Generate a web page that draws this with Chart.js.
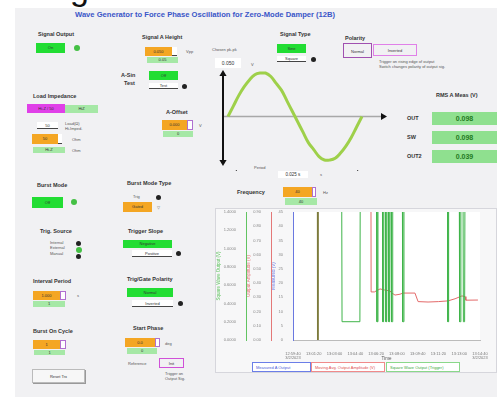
<!DOCTYPE html>
<html>
<head>
<meta charset="utf-8">
<script src="https://cdn.jsdelivr.net/npm/chart.js@4.4.0/dist/chart.umd.min.js"></script>
<style>
  body { margin:0; width:497px; height:397px; overflow:hidden; background:#fff; font-family:"Liberation Sans", Arial, sans-serif; }
  #panel { position:absolute; left:15px; top:8px; width:482px; height:389px; background:#f1f1f3; }
  .t { position:absolute; font-size:5.5px; font-weight:bold; color:#333; white-space:nowrap; }
  .s { position:absolute; font-size:4px; color:#555; white-space:nowrap; line-height:5px; }
  .bx { position:absolute; font-size:4px; color:#333; text-align:center; box-sizing:border-box; white-space:nowrap; overflow:hidden; }
  .or { background:#f4a623; }
  .gr { background:#22dd33; }
  .lg { background:#a6e8a6; }
  .wh { background:#fff; border-bottom:1px solid #444; }
  .mg { background:#e040e8; }
  .dot { position:absolute; width:5px; height:5px; border-radius:50%; background:#222; }
  .gdot { position:absolute; width:6px; height:6px; border-radius:50%; background:#44c044; }
  #big { position:absolute; left:70px; top:-29px; font-size:34px; line-height:34px; color:#111; }
  #title { position:absolute; left:75px; top:10px; font-size:7.6px; font-weight:bold; color:#3a56c8; white-space:nowrap; }
  .rms { position:absolute; left:432px; width:65px; height:13px; background:#8fe08f; color:#1f7a1f; font-size:7px; font-weight:bold; text-align:center; line-height:13px; }
  .leg { position:absolute; top:362px; height:10px; font-size:4px; line-height:10px; padding-left:3px; box-sizing:border-box; background:#fff; }
</style>
</head>
<body>
<div id="panel"></div>
<div id="big">g</div>
<div id="title">Wave Generator to Force Phase Oscillation for Zero-Mode Damper (12B)</div>
<div id="ctrls"></div>

<div style="position:absolute;left:213px;top:65px;width:182px;height:106px;"><canvas id="sine"></canvas></div>
<div style="position:absolute;left:215px;top:208px;width:282px;height:165px;border:1px solid #d6d6dc;box-sizing:border-box;background:#f7f7f8;"></div>
<div style="position:absolute;left:213px;top:207px;width:284px;height:155px;"><canvas id="time"></canvas></div>

<div class="leg" style="left:252px;width:59px;border:1px solid #6b7ee8;color:#4a5ad8;">Measured A Output</div>
<div class="leg" style="left:311px;width:74px;border:1px solid #f08a8a;color:#e05050;">Moving Avg. Output Amplitude (V)</div>
<div class="leg" style="left:386px;width:74px;border:1px solid #8ad88a;color:#3caa3c;">Square Wave Output (Trigger)</div>

<script>
// sine preview (time in ms, volts)
const sineTime = [0,1,2,3,4,5,6,7,8,9,10,11,12,13,14,15,16,17,18,19,20,21,22,23,24,25];
const sineVolts = [0,0.006,0.012,0.017,0.021,0.024,0.025,0.025,0.023,0.019,0.015,0.009,0.003,
                   -0.003,-0.009,-0.015,-0.019,-0.023,-0.025,-0.025,-0.024,-0.021,-0.017,-0.012,-0.006,0];

// time history (seconds from start)
const greenTime = [0,117,118,121,122,234,236,322,324,402,404,407,409,430,432,436,438,445,447,451,453,
                   459,461,465,467,472,474,478,480,526,528,532,534,744,745,748,749,800,802,806,808,818,820,826,828,900];
const greenVals = [2,2,-0.3,-0.3,2,2,0.2,0.2,2,2,0.2,0.2,2,2,0.2,0.2,2,2,0.2,0.2,2,
                   2,0.2,0.2,2,2,0.2,0.2,2,2,0.2,0.2,2,2,0.2,0.2,2,2,0.2,0.2,2,2,0.2,0.2,2,2];
const redTime = [375,376,392,400,419,440,467,476,491,515,529,587,602,650,700,746,780,813,828,832,890];
const redVals = [1.2,0.338,0.338,0.345,0.359,0.352,0.345,0.33,0.316,0.322,0.33,0.33,0.27,0.267,0.27,0.275,0.29,0.31,0.305,0.28,0.281];
const blueTime = [];
const blueVals = [];
const xTickLabels = [['12:59:40','3/2/2023'],'13:01:20','13:03:00','13:04:40','13:06:20','13:08:00',
                     '13:09:40','13:11:20','13:13:00',['13:14:40','3/2/2023']];

const rmsLabels = ['OUT','SW','OUT2'];
const rmsValues = ['0.098','0.098','0.039'];

// front panel controls
const box = (cls, x, y, w, h, txt) => {
  const d = document.createElement('div');
  d.className = cls;
  d.style.cssText = `left:${x}px;top:${y}px;width:${w}px;height:${h}px;line-height:${h}px;`;
  d.textContent = txt || '';
  document.getElementById('ctrls').appendChild(d);
};
const lab = (x, y, txt, cls) => {
  const d = document.createElement('div');
  d.className = cls || 't';
  d.style.left = x + 'px'; d.style.top = y + 'px';
  d.textContent = txt;
  document.getElementById('ctrls').appendChild(d);
};
const dot = (x, y, cls) => {
  const d = document.createElement('div');
  d.className = cls || 'dot';
  d.style.left = x + 'px'; d.style.top = y + 'px';
  document.getElementById('ctrls').appendChild(d);
};

lab(38, 31, 'Signal Output'); box('bx gr', 36, 43, 29, 10, 'On'); dot(74, 45, 'gdot');
lab(142, 34, 'Signal A Height'); box('bx or', 145, 47, 27, 9, '0.050'); box('bx wh', 172, 47, 5, 9, '');
lab(186, 49, 'Vpp', 's'); box('bx lg', 147, 57, 31, 6, '0.05');
lab(121, 72, 'A-Sin', 't'); lab(124, 80, 'Test', 't');
box('bx gr', 149, 71, 29, 9, 'Off'); box('bx wh', 149, 83, 29, 6, 'Test'); dot(182, 84);
lab(33, 93, 'Load Impedance'); box('bx mg', 27, 104, 38, 9, 'Hi-Z / 50'); box('bx lg', 65, 105, 33, 8, 'HiZ');
box('bx wh', 37, 122, 21, 7, '50'); lab(65, 121, 'Load(Ω)', 's'); lab(65, 126, 'Hi-Imped.', 's');
box('bx or', 32, 134, 26, 10, '50'); box('bx wh', 58, 134, 4, 10, ''); lab(72, 137, 'Ohm', 's');
box('bx lg', 33, 147, 32, 6, 'Hi-Z'); lab(72, 148, 'Ohm', 's');
lab(166, 109, 'A-Offset'); box('bx or', 162, 120, 25, 10, '0.000'); box('bx', 187, 120, 6, 10, '');
lab(199, 123, 'V', 's'); box('bx lg', 163, 131, 30, 6, '0');

lab(37, 182, 'Burst Mode'); box('bx gr', 32, 197, 31, 11, 'Off'); dot(71, 199, 'gdot');
lab(127, 180, 'Burst Mode Type'); lab(133, 194, 'Trig', 's'); dot(156, 195);
box('bx or', 123, 202, 29, 10, 'Gated'); lab(157, 205, '▽', 's');
lab(40, 228, 'Trig. Source'); lab(50, 240, 'Internal', 's'); lab(50, 245, 'External', 's'); lab(50, 251, 'Manual', 's');
dot(76, 241); dot(76, 247, 'gdot'); dot(76, 254);
lab(128, 228, 'Trigger Slope'); box('bx gr', 123, 240, 49, 8, 'Negative'); box('bx wh', 132, 250, 40, 7, 'Positive'); dot(176, 251);
lab(33, 278, 'Interval Period'); box('bx or', 33, 291, 27, 9, '1.000'); box('bx', 60, 291, 6, 9, '');
lab(77, 293, 's', 's'); box('bx lg', 33, 301, 32, 6, '1');
lab(127, 276, 'Trig/Gate Polarity'); box('bx gr', 127, 288, 46, 9, 'Normal'); box('bx wh', 132, 300, 41, 7, 'Inverted'); dot(178, 301);
lab(33, 328, 'Burst On Cycle'); box('bx or', 33, 340, 27, 9, '1'); box('bx', 60, 340, 6, 9, '');
box('bx lg', 34, 350, 31, 5, '1');
lab(133, 325, 'Start Phase'); box('bx or', 125, 338, 30, 9, '0.0'); box('bx', 155, 338, 5, 9, '');
lab(165, 341, 'deg', 's'); box('bx lg', 127, 348, 30, 6, '0');
lab(128, 361, 'Reference', 's'); box('bx', 159, 358, 25, 10, 'Init');
lab(165, 371, 'Trigger on', 's'); lab(165, 376, 'Output Sig.', 's');
box('bx', 32, 369, 53, 14, 'Reset Trx');

lab(212, 47, 'Chosen pk-pk', 's'); box('bx', 215, 58, 26, 10, '0.050'); lab(251, 62, 'V', 's');
lab(280, 31, 'Signal Type'); box('bx gr', 277, 44, 29, 9, 'Sine'); box('bx wh', 277, 56, 29, 6, 'Square'); dot(311, 57);
lab(345, 35, 'Polarity'); box('bx', 343, 43, 29, 15, 'Normal'); box('bx', 373, 44, 44, 12, 'Inverted');
lab(379, 59, 'Trigger on rising edge of output', 's'); lab(379, 64, 'Switch changes polarity of output sig.', 's');
lab(254, 165, 'Period', 's'); box('bx', 278, 171, 30, 7, '0.025 s'); lab(320, 172, 's', 's');
lab(237, 189, 'Frequency'); box('bx or', 283, 187, 29, 10, '40'); box('bx', 312, 187, 4, 10, '');
lab(323, 190, 'Hz', 's'); box('bx lg', 285, 198, 32, 7, '40');
lab(436, 92, 'RMS A Meas (V)');
rmsLabels.forEach((l, i) => {
  lab(407, 115 + i * 19, l, 't');
  const d = document.createElement('div');
  d.className = 'rms'; d.style.top = (112 + i * 19) + 'px'; d.textContent = rmsValues[i];
  document.getElementById('ctrls').appendChild(d);
});

// styled outlines for a few boxes
document.querySelectorAll('.bx').forEach(b => {
  if (b.textContent === 'Normal' && b.style.left === '343px') b.style.border = '1px solid #a050b0';
  if (b.textContent === 'Inverted' && b.style.left === '373px') b.style.border = '1px solid #e080e8';
  if (b.textContent === 'Init') b.style.border = '1px solid #d050d8';
  if (b.textContent === 'Reset Trx') { b.style.border = '1px solid #bbb'; b.style.background = '#f7f7f7'; b.style.boxShadow = '1px 1px 0 #999'; }
  if (b.textContent === '0.050' && b.style.left === '215px') { b.style.background = '#fff'; b.style.fontSize = '5px'; }
  if (b.textContent === '0.025 s') { b.style.background = '#fff'; b.style.fontSize = '4.5px'; }
  if (b.textContent === '' && !b.classList.contains('wh')) { b.style.background = '#fff'; b.style.border = '1px solid #b070d0'; }
});

const arrowHead = (ctx, x, y, dx, dy, size) => {
  ctx.beginPath();
  ctx.moveTo(x, y);
  ctx.lineTo(x - dx * size - dy * size * 0.6, y - dy * size - dx * size * 0.6);
  ctx.lineTo(x - dx * size + dy * size * 0.6, y - dy * size + dx * size * 0.6);
  ctx.closePath();
  ctx.fill();
};

const axesArrows = {
  id: 'axesArrows',
  beforeDatasetsDraw(chart) {
    const { ctx, chartArea: a } = chart;
    const y0 = chart.scales.y.getPixelForValue(0);
    ctx.save();
    ctx.strokeStyle = '#a8a8a8';
    ctx.lineWidth = 1.5;
    ctx.beginPath(); ctx.moveTo(a.left, y0); ctx.lineTo(a.right - 4, y0); ctx.stroke();
    ctx.fillStyle = '#111';
    arrowHead(ctx, a.right + 2, y0, 1, 0, 6);
    ctx.strokeStyle = '#111';
    ctx.lineWidth = 2;
    ctx.beginPath(); ctx.moveTo(a.left, a.top); ctx.lineTo(a.left, a.bottom); ctx.stroke();
    arrowHead(ctx, a.left, a.top - 3, 0, -1, 6);
    arrowHead(ctx, a.left, a.bottom + 3, 0, 1, 6);
    // period arrow below the plot
    const yb = a.bottom + 10;
    ctx.lineWidth = 1;
    ctx.strokeStyle = '#333';
    ctx.beginPath(); ctx.moveTo(a.left + 12, yb); ctx.lineTo(a.left + 136, yb); ctx.stroke();
    arrowHead(ctx, a.left + 9, yb, -1, 0, 5);
    arrowHead(ctx, a.left + 139, yb, 1, 0, 5);
    ctx.restore();
  }
};

new Chart(document.getElementById('sine'), {
  type: 'line',
  data: {
    datasets: [{
      data: sineTime.map((t, i) => ({ x: t, y: sineVolts[i] })),
      borderColor: '#9ed04a',
      borderWidth: 3,
      pointRadius: 0,
      tension: 0.4,
      clip: 4
    }]
  },
  options: {
    responsive: true,
    maintainAspectRatio: false,
    animation: false,
    layout: { padding: { left: 10, top: 8, right: 10, bottom: 8 } },
    plugins: { legend: { display: false }, tooltip: { enabled: false } },
    scales: {
      x: { type: 'linear', min: -0.93, max: 29.3, display: false },
      y: { min: -0.0267, max: 0.025, display: false }
    }
  },
  plugins: [axesArrows]
});

const plotBg = {
  id: 'plotBg',
  beforeDraw(chart) {
    const { ctx, chartArea: a } = chart;
    ctx.save();
    ctx.fillStyle = '#fff';
    ctx.fillRect(a.left, a.top, a.right - a.left, a.bottom - a.top);
    ctx.restore();
  }
};

const sideAxis = (title, color, min, max, step, width, digits) => ({
  position: 'left',
  min, max,
  afterFit(s) { s.width = width; },
  border: { color: color, width: 1 },
  grid: { display: false },
  ticks: { stepSize: step, color: '#888', font: { size: 4 }, padding: 2,
           callback: v => v.toFixed(digits) },
  title: { display: true, text: title, color: color, font: { size: 4.5 }, padding: 0 }
});

new Chart(document.getElementById('time'), {
  type: 'line',
  data: {
    datasets: [
      { label: 'Square Wave Output (Trigger)', yAxisID: 'yG',
        data: greenTime.map((t, i) => ({ x: t, y: greenVals[i] })),
        borderColor: '#3fb44a', borderWidth: 1, pointRadius: 0, tension: 0,
        segment: { borderColor: c => (c.p0.parsed.y < 0 || c.p1.parsed.y < 0) ? '#7d7a3c' : undefined } },
      { label: 'Moving Avg. Output Amplitude (V)', yAxisID: 'yR',
        data: redTime.map((t, i) => ({ x: t, y: redVals[i] })),
        borderColor: '#e46a6a', borderWidth: 1, pointRadius: 0, tension: 0 },
      { label: 'Measured A Output', yAxisID: 'yB',
        data: blueTime.map((t, i) => ({ x: t, y: blueVals[i] })),
        borderColor: '#5a6ae0', borderWidth: 1, pointRadius: 0, tension: 0 }
    ]
  },
  options: {
    responsive: true,
    maintainAspectRatio: false,
    animation: false,
    layout: { padding: { left: 3, top: 5, right: 17, bottom: 0 } },
    plugins: { legend: { display: false }, tooltip: { enabled: false } },
    scales: {
      x: {
        type: 'linear', min: 0, max: 900,
        afterFit(s) { s.height = 22; },
        border: { color: '#bbb' },
        grid: { display: false },
        ticks: { stepSize: 100, color: '#777', font: { size: 4 }, maxRotation: 0, autoSkip: false,
                 callback: (v, i) => xTickLabels[i] },
        title: { display: true, text: 'Time', color: '#555', font: { size: 4.5 }, padding: 1 }
      },
      yB: sideAxis('Measured (V)', '#6a78e0', 0, 45, 5, 22, 0),
      yR: sideAxis('Output Amplitude (V)', '#e47878', 0, 0.9, 0.1, 25, 2),
      yG: sideAxis('Square Wave Output (V)', '#62c462', 0, 1.4, 0.2, 30, 4)
    }
  },
  plugins: [plotBg]
});
</script>
</body>
</html>
